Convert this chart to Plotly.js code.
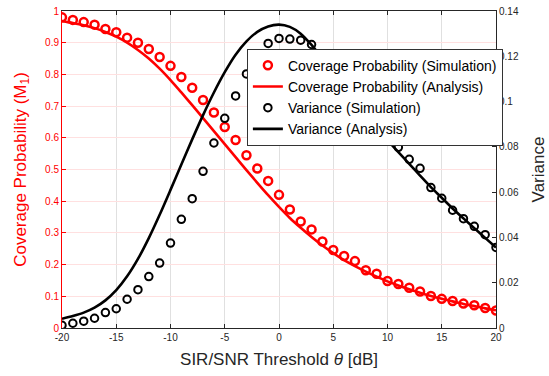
<!DOCTYPE html>
<html>
<head>
<meta charset="utf-8">
<script src="https://cdn.plot.ly/plotly-3.0.1.min.js"></script>
<style>html,body{margin:0;padding:0;background:#fff;}#chart{width:549px;height:376px;}</style>
</head>
<body>
<div id="chart"></div>
<script>
var theta = [-20,-19,-18,-17,-16,-15,-14,-13,-12,-11,-10,-9,-8,-7,-6,-5,-4,-3,-2,-1,0,1,2,3,4,5,6,7,8,9,10,11,12,13,14,15,16,17,18,19,20];

var covSim = [0.980,0.972,0.965,0.957,0.943,0.933,0.916,0.900,0.880,0.855,0.827,0.792,0.758,0.719,0.680,0.634,0.593,0.545,0.503,0.464,0.420,0.374,0.336,0.311,0.273,0.246,0.227,0.211,0.182,0.171,0.148,0.139,0.127,0.115,0.101,0.092,0.085,0.077,0.072,0.063,0.055];

var covAna = [0.968,0.962,0.955,0.946,0.934,0.919,0.900,0.877,0.850,0.818,0.782,0.743,0.703,0.662,0.621,0.580,0.539,0.498,0.458,0.419,0.382,0.347,0.316,0.287,0.260,0.236,0.214,0.195,0.178,0.162,0.147,0.134,0.122,0.111,0.101,0.092,0.084,0.076,0.069,0.062,0.056];

var varSim = [0.0012,0.0021,0.0030,0.0043,0.0068,0.0085,0.0127,0.0169,0.0227,0.0287,0.0375,0.0480,0.0571,0.0692,0.0817,0.0926,0.1025,0.1122,0.1200,0.1257,0.1279,0.1276,0.1271,0.1252,0.1210,0.1155,0.1090,0.1025,0.0960,0.0905,0.0850,0.0798,0.0745,0.0705,0.0620,0.0573,0.0520,0.0483,0.0449,0.0412,0.0356];

var varAna = [0.0041,0.0053,0.0068,0.0090,0.0122,0.0167,0.0228,0.0305,0.0397,0.0500,0.0610,0.0722,0.0833,0.0940,0.1040,0.1130,0.1207,0.1266,0.1308,0.1332,0.1340,0.1330,0.1300,0.1250,0.1190,0.1128,0.1065,0.1003,0.0943,0.0885,0.0830,0.0777,0.0725,0.0673,0.0622,0.0575,0.0528,0.0484,0.0441,0.0398,0.0355];

var leftTicks = [0,0.1,0.2,0.3,0.4,0.5,0.6,0.7,0.8,0.9,1];
var rightTicks = [0,0.02,0.04,0.06,0.08,0.1,0.12,0.14];
var xTicks = [-20,-15,-10,-5,0,5,10,15,20];

var RED = '#ff0000';
var DARK = '#262626';
var FONT = 'Liberation Sans, Arial, Helvetica, sans-serif';

var traces = [
  {x: theta, y: covSim, name: 'Coverage Probability (Simulation)', mode: 'markers', type: 'scatter',
   marker: {symbol: 'circle-open', size: 8, color: RED, line: {color: RED, width: 2.5}}, yaxis: 'y'},
  {x: theta, y: covAna, name: 'Coverage Probability (Analysis)', mode: 'lines', type: 'scatter',
   line: {color: RED, width: 2.6, shape: 'spline', smoothing: 0.8}, yaxis: 'y'},
  {x: theta, y: varSim, name: 'Variance (Simulation)', mode: 'markers', type: 'scatter',
   marker: {symbol: 'circle-open', size: 7.5, color: '#000', line: {color: '#000', width: 2}}, yaxis: 'y2'},
  {x: theta, y: varAna, name: 'Variance (Analysis)', mode: 'lines', type: 'scatter',
   line: {color: '#000', width: 2.6, shape: 'spline', smoothing: 0.8}, yaxis: 'y2'}
];

var layout = {
  width: 549, height: 376,
  margin: {l: 62, r: 53, t: 11, b: 48, pad: 0},
  paper_bgcolor: '#fff', plot_bgcolor: '#fff',
  font: {family: FONT, color: DARK},
  showlegend: true,
  legend: {
    x: 0.426, y: 0.881, xanchor: 'left', yanchor: 'top',
    bgcolor: '#ffffff', bordercolor: '#333333', borderwidth: 1,
    font: {family: FONT, size: 14, color: '#000'},
    tracegroupgap: 0, itemwidth: 30
  },
  xaxis: {
    range: [-20, 20], tickvals: xTicks, ticktext: xTicks.map(String),
    showgrid: true, gridcolor: '#e0e0e0', gridwidth: 1, zeroline: false,
    showline: true, linecolor: DARK, linewidth: 1, mirror: 'ticks',
    ticks: 'inside', ticklen: 4, tickcolor: DARK,
    tickfont: {family: FONT, size: 10, color: DARK},
    title: {text: 'SIR/SNR Threshold <i>θ</i> [dB]', font: {family: FONT, size: 17, color: DARK}, standoff: 11}
  },
  yaxis: {
    range: [0, 1], tickvals: leftTicks, ticktext: leftTicks.map(String),
    showgrid: true, gridcolor: '#ffe0e0', gridwidth: 1, zeroline: false,
    showline: true, linecolor: RED, linewidth: 1,
    ticks: 'inside', ticklen: 4, tickcolor: RED,
    tickfont: {family: FONT, size: 10, color: RED},
    title: {text: 'Coverage Probability (M<sub>1</sub>)', font: {family: FONT, size: 17, color: RED}, standoff: 14}
  },
  yaxis2: {
    range: [0, 0.14], tickvals: rightTicks, ticktext: rightTicks.map(String),
    overlaying: 'y', side: 'right', anchor: 'x',
    showgrid: false, zeroline: false,
    showline: true, linecolor: DARK, linewidth: 1,
    ticks: 'inside', ticklen: 4, tickcolor: DARK,
    tickfont: {family: FONT, size: 10, color: DARK},
    title: {text: 'Variance', font: {family: FONT, size: 17, color: DARK}, standoff: 14}
  }
};

Plotly.newPlot('chart', traces, layout, {staticPlot: true, displayModeBar: false});
</script>
</body>
</html>
